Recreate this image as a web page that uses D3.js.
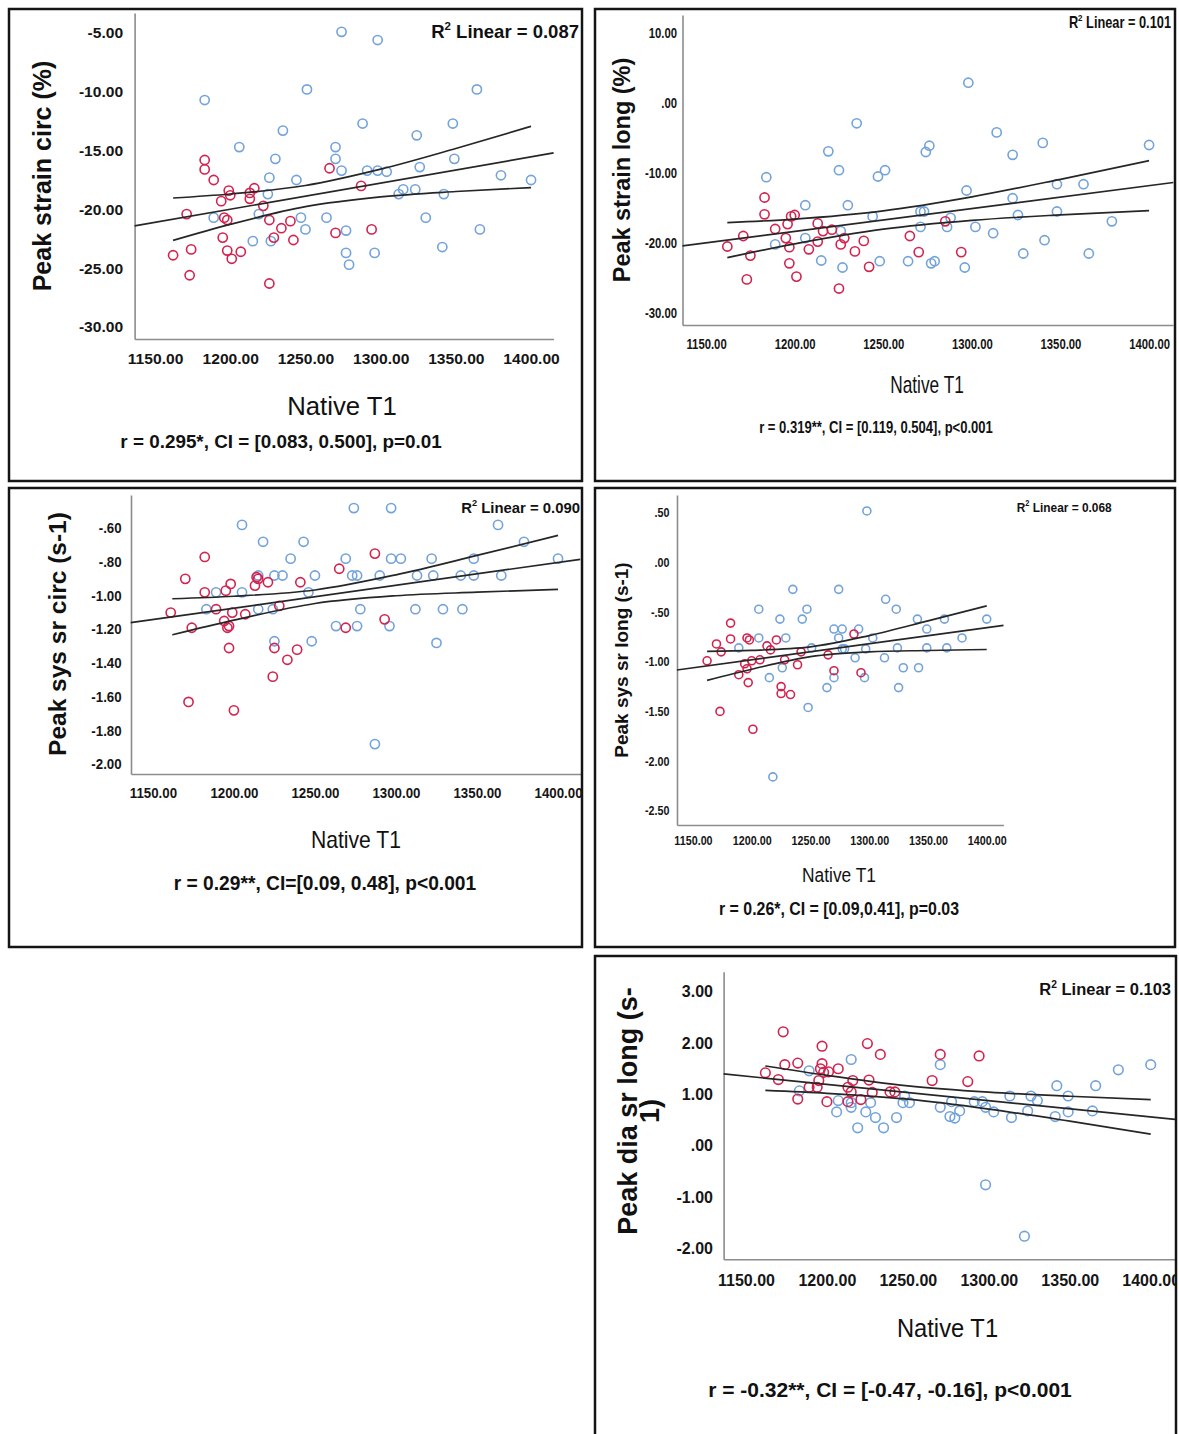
<!DOCTYPE html>
<html>
<head>
<meta charset="utf-8">
<script src="https://cdn.jsdelivr.net/npm/d3@7"></script>
<style>
  html, body { margin: 0; padding: 0; background: #fff; }
  svg { display: block; }
</style>
</head>
<body>
<svg id="fig" width="1179" height="1434"></svg>
<script>
// ---------------------------------------------------------------
// Native T1 vs. myocardial deformation indices (five scatter plots)
// ---------------------------------------------------------------

// Native T1 ticks shared by every panel
const nativeT1Ticks = [1150, 1200, 1250, 1300, 1350, 1400];

// Peak circumferential strain (%)
const strainCircTicks = [-5, -10, -15, -20, -25, -30];
const strainCircBlue = [
  [1274,-4.9],[1298,-5.6],[1183,-10.7],[1251,-9.8],[1364,-9.8],[1288,-12.7],[1348,-12.7],
  [1235,-13.3],[1324,-13.7],[1206,-14.7],[1270,-14.7],[1230,-15.7],[1270,-15.7],[1349,-15.7],
  [1274,-16.7],[1291,-16.7],[1298,-16.7],[1304,-16.8],[1326,-16.4],[1226,-17.3],[1244,-17.5],
  [1380,-17.1],[1400,-17.5],[1315,-18.3],[1323,-18.3],[1312,-18.7],[1342,-18.7],[1225,-18.7],
  [1189,-20.7],[1219,-20.4],[1247,-20.7],[1264,-20.7],[1330,-20.7],[1250,-21.7],[1277,-21.8],
  [1366,-21.7],[1215,-22.7],[1227,-22.7],[1277,-23.7],[1296,-23.7],[1341,-23.2],[1279,-24.7]
];
const strainCircRed = [
  [1183,-15.8],[1183,-16.6],[1189,-17.5],[1171,-20.4],[1199,-18.4],[1200,-18.8],[1194,-19.3],
  [1213,-18.6],[1216,-18.2],[1213,-19.1],[1222,-19.7],[1196,-20.7],[1198,-20.9],[1226,-20.9],
  [1234,-21.6],[1240,-21.0],[1266,-16.5],[1287,-18.0],[1270,-22.0],[1294,-21.7],[1195,-22.4],
  [1229,-22.4],[1242,-22.6],[1162,-23.9],[1174,-23.4],[1198,-23.5],[1201,-24.2],[1207,-23.6],
  [1173,-25.6],[1226,-26.3]
];
const strainCircFit = [[1136.4,-21.4],[1415,-15.2]];
const strainCircUpper = [[1162,-19.03],[1200,-18.69],[1250,-17.97],[1300,-16.58],[1350,-14.82],[1400,-12.94]];
const strainCircLower = [[1162,-22.63],[1200,-21.27],[1250,-19.77],[1300,-18.94],[1350,-18.48],[1400,-18.14]];

// Peak longitudinal strain (%)
const strainLongTicks = [10, 0, -10, -20, -30];
const strainLongBlue = [
  [1298,2.9],[1235,-2.9],[1314,-4.2],[1340,-5.7],[1400,-6.0],[1276,-6.1],[1274,-7.0],[1219,-6.9],
  [1323,-7.4],[1225,-9.6],[1251,-9.6],[1247,-10.5],[1184,-10.6],[1297,-12.5],[1348,-11.6],
  [1363,-11.6],[1323,-13.6],[1206,-14.6],[1230,-14.6],[1271,-15.5],[1273,-15.5],[1348,-15.5],
  [1326,-16.0],[1244,-16.2],[1288,-16.4],[1286,-17.7],[1271,-17.7],[1302,-17.7],[1379,-16.9],
  [1312,-18.6],[1226,-18.3],[1206,-19.3],[1341,-19.6],[1189,-20.2],[1215,-22.5],[1227,-23.5],
  [1248,-22.6],[1264,-22.6],[1277,-22.9],[1279,-22.6],[1296,-23.5],[1329,-21.5],[1366,-21.5]
];
const strainLongRed = [
  [1183,-13.5],[1183,-15.9],[1198,-16.2],[1200,-16.0],[1196,-17.3],[1189,-18.0],[1171,-19.0],
  [1195,-19.3],[1162,-20.5],[1213,-17.2],[1216,-18.3],[1221,-18.1],[1228,-19.3],[1213,-19.8],
  [1239,-19.7],[1265,-19.0],[1285,-16.9],[1175,-21.8],[1197,-20.6],[1208,-20.9],[1226,-20.2],
  [1234,-21.2],[1197,-22.9],[1201,-24.8],[1173,-25.2],[1242,-23.4],[1225,-26.5],[1270,-21.3],
  [1294,-21.3]
];
const strainLongFit = [[1136.7,-20.42],[1413.7,-11.36]];
const strainLongUpper = [[1162,-17.09],[1200,-16.58],[1250,-15.40],[1300,-13.40],[1350,-10.90],[1400,-8.24]];
const strainLongLower = [[1162,-22.09],[1200,-20.12],[1250,-18.02],[1300,-16.76],[1350,-15.98],[1400,-15.38]];

// Peak systolic circumferential strain rate (s-1)
const sysCircTicks = [-0.6, -0.8, -1.0, -1.2, -1.4, -1.6, -1.8, -2.0];
const sysCircBlue = [
  [1274,-0.48],[1297,-0.48],[1205,-0.58],[1363,-0.58],[1218,-0.68],[1243,-0.68],[1379,-0.68],
  [1235,-0.78],[1269,-0.78],[1297,-0.78],[1303,-0.78],[1322,-0.78],[1348,-0.78],[1400,-0.78],
  [1215,-0.88],[1225,-0.88],[1230,-0.88],[1250,-0.88],[1273,-0.88],[1276,-0.88],[1290,-0.88],
  [1313,-0.88],[1323,-0.88],[1340,-0.88],[1348,-0.88],[1365,-0.88],[1189,-0.98],[1205,-0.98],
  [1246,-0.98],[1183,-1.08],[1215,-1.08],[1224,-1.08],[1278,-1.08],[1312,-1.08],[1329,-1.08],
  [1341,-1.08],[1263,-1.18],[1276,-1.18],[1296,-1.18],[1225,-1.27],[1248,-1.27],[1325,-1.28],
  [1287,-1.88]
];
const sysCircRed = [
  [1170,-0.90],[1182,-0.77],[1182,-0.98],[1161,-1.10],[1174,-1.19],[1189,-1.08],[1195,-0.97],
  [1198,-0.93],[1199,-1.10],[1194,-1.15],[1196,-1.19],[1197,-1.18],[1197,-1.31],[1207,-1.11],
  [1213,-0.94],[1214,-0.89],[1215,-0.90],[1221,-0.92],[1228,-1.06],[1225,-1.31],[1233,-1.38],
  [1239,-1.32],[1224,-1.48],[1241,-0.92],[1265,-0.84],[1269,-1.19],[1287,-0.75],[1293,-1.14],
  [1172,-1.63],[1200,-1.68]
];
const sysCircFit = [[1136.3,-1.16],[1413.7,-0.784]];
const sysCircUpper = [[1162,-1.018],[1200,-1.003],[1250,-0.966],[1300,-0.876],[1350,-0.761],[1400,-0.642]];
const sysCircLower = [[1162,-1.232],[1200,-1.145],[1250,-1.046],[1300,-1.000],[1350,-0.979],[1400,-0.962]];

// Peak systolic longitudinal strain rate (s-1)
const sysLongTicks = [0.5, 0, -0.5, -1.0, -1.5, -2.0, -2.5];
const sysLongBlue = [
  [1298,0.52],[1235,-0.27],[1274,-0.27],[1314,-0.37],[1206,-0.47],[1247,-0.47],[1323,-0.47],
  [1224,-0.57],[1243,-0.57],[1341,-0.57],[1364,-0.57],[1400,-0.57],[1270,-0.67],[1277,-0.67],
  [1291,-0.67],[1349,-0.67],[1206,-0.76],[1229,-0.76],[1274,-0.76],[1303,-0.76],[1379,-0.76],
  [1189,-0.86],[1251,-0.86],[1277,-0.87],[1279,-0.87],[1297,-0.87],[1324,-0.86],[1349,-0.86],
  [1366,-0.86],[1288,-0.96],[1313,-0.96],[1226,-1.06],[1329,-1.06],[1342,-1.06],[1215,-1.16],
  [1270,-1.16],[1296,-1.16],[1264,-1.26],[1325,-1.26],[1248,-1.46],[1218,-2.16]
];
const sysLongRed = [
  [1182,-0.61],[1162,-0.99],[1170,-0.82],[1174,-0.90],[1182,-0.77],[1196,-0.76],[1198,-0.78],
  [1189,-1.13],[1194,-1.02],[1196,-1.07],[1200,-0.99],[1197,-1.21],[1207,-0.98],[1213,-0.84],
  [1216,-0.88],[1221,-0.78],[1228,-0.98],[1239,-1.03],[1242,-0.90],[1225,-1.25],[1225,-1.32],
  [1233,-1.33],[1265,-0.93],[1270,-1.09],[1287,-0.72],[1293,-1.11],[1173,-1.50],[1201,-1.68]
];
const sysLongFit = [[1136.3,-1.083],[1414.3,-0.633]];
const sysLongUpper = [[1162,-0.895],[1200,-0.885],[1250,-0.850],[1300,-0.736],[1350,-0.588],[1400,-0.436]];
const sysLongLower = [[1162,-1.187],[1200,-1.075],[1250,-0.948],[1300,-0.900],[1350,-0.886],[1400,-0.876]];

// Peak diastolic longitudinal strain rate (s-1)
const diaLongTicks = [3, 2, 1, 0, -1, -2];
const diaLongBlue = [
  [1400,1.58],[1380,1.48],[1366,1.17],[1342,1.17],[1270,1.58],[1215,1.68],[1189,1.46],[1183,1.07],
  [1313,0.97],[1326,0.97],[1349,0.97],[1248,0.97],[1247,0.84],[1251,0.84],[1277,0.86],[1291,0.86],
  [1296,0.86],[1330,0.88],[1215,0.84],[1227,0.84],[1207,0.88],[1215,0.75],[1270,0.75],[1298,0.75],
  [1206,0.66],[1224,0.66],[1282,0.68],[1303,0.66],[1324,0.68],[1349,0.66],[1364,0.68],[1276,0.57],
  [1279,0.54],[1230,0.55],[1243,0.55],[1314,0.55],[1341,0.57],[1219,0.35],[1235,0.35],
  [1298,-0.76],[1322,-1.76]
];
const diaLongRed = [
  [1173,2.22],[1197,1.94],[1225,1.99],[1233,1.78],[1270,1.78],[1294,1.75],[1162,1.42],[1170,1.29],
  [1174,1.58],[1182,1.61],[1197,1.60],[1196,1.50],[1198,1.43],[1201,1.44],[1207,1.50],[1195,1.27],
  [1189,1.14],[1194,1.14],[1182,0.91],[1200,0.86],[1216,1.27],[1226,1.28],[1213,1.14],[1215,1.05],
  [1228,1.04],[1239,1.05],[1242,1.05],[1213,0.86],[1221,0.90],[1265,1.27],[1287,1.25]
];
const diaLongFit = [[1136.2,1.399],[1415,0.516]];
const diaLongUpper = [[1162,1.555],[1200,1.372],[1250,1.168],[1300,1.045],[1350,0.965],[1400,0.900]];
const diaLongLower = [[1162,1.079],[1200,1.022],[1250,0.908],[1300,0.715],[1350,0.479],[1400,0.226]];

// Text content
const xTitle = "Native T1";
const yTitles = [
  ["Peak strain circ (%)"],
  ["Peak strain long (%)"],
  ["Peak sys sr circ (s-1)"],
  ["Peak sys sr long (s-1)"],
  ["Peak dia sr long (s-", "1)"]
];
const r2Values = ["0.087", "0.101", "0.090", "0.068", "0.103"];
const captions = [
  "r = 0.295*, CI = [0.083, 0.500], p=0.01",
  "r = 0.319**, CI = [0.119, 0.504], p<0.001",
  "r = 0.29**, CI=[0.09, 0.48], p<0.001",
  "r = 0.26*, CI = [0.09,0.41], p=0.03",
  "r = -0.32**, CI = [-0.47, -0.16], p<0.001"
];

// ---------------------------------------------------------------
// Panel geometry and typography
// ---------------------------------------------------------------
const SANS = "'Liberation Sans', Arial, Helvetica, sans-serif";
const BLUE = "#73a3da";
const RED = "#d3234f";

const panels = [
  { box: [9, 9, 582, 481], l: 134.6, r: 553.6, t: 13, b: 339,
    xDom: [1136.4, 1415], yDom: [-31.02, -3.30], yTicks: strainCircTicks,
    blue: strainCircBlue, red: strainCircRed, fit: strainCircFit, upper: strainCircUpper, lower: strainCircLower,
    tick: { fs: 15, sx: 1.04, xPad: 14, yPad: 11.5 }, rad: 4.6,
    yT: { x: 42, y: 176, fs: 25, dx: 0 },
    xT: { x: 342, y: 415, fs: 25, sx: 1.03 },
    cap: { x: 281, y: 448, fs: 18.5, sx: 1.02 },
    r2: { x: 579, y: 38, fs: 18.5, sx: 1.0 } },
  { box: [595, 9, 1175, 481], l: 682.5, r: 1173, t: 15, b: 325,
    xDom: [1136.7, 1413.5], yDom: [-31.71, 12.57], yTicks: strainLongTicks,
    blue: strainLongBlue, red: strainLongRed, fit: strainLongFit, upper: strainLongUpper, lower: strainLongLower,
    tick: { fs: 14.5, sx: 0.78, xPad: 14, yPad: 5.5 }, rad: 4.6,
    yT: { x: 622, y: 170, fs: 23.5, dx: 0 },
    xT: { x: 927, y: 393, fs: 24, sx: 0.72 },
    cap: { x: 876, y: 433, fs: 16.3, sx: 0.8 },
    r2: { x: 1171, y: 28, fs: 16, sx: 0.8 } },
  { box: [9, 488, 582, 947], l: 131, r: 582, t: 495, b: 774,
    xDom: [1136.5, 1414.8], yDom: [-2.0575, -0.4025], yTicks: sysCircTicks,
    blue: sysCircBlue, red: sysCircRed, fit: sysCircFit, upper: sysCircUpper, lower: sysCircLower,
    tick: { fs: 14, sx: 0.95, xPad: 14, yPad: 9.4 }, rad: 4.6,
    yT: { x: 57, y: 634, fs: 24.5, dx: 0 },
    xT: { x: 356, y: 848, fs: 23, sx: 0.92 },
    cap: { x: 325, y: 890, fs: 20, sx: 0.96 },
    r2: { x: 580, y: 513, fs: 15.5, sx: 0.96 } },
  { box: [595, 488, 1175, 947], l: 677, r: 1003.4, t: 495, b: 825,
    xDom: [1136.4, 1414.2], yDom: [-2.645, 0.681], yTicks: sysLongTicks,
    blue: sysLongBlue, red: sysLongRed, fit: sysLongFit, upper: sysLongUpper, lower: sysLongLower,
    tick: { fs: 12.5, sx: 0.86, xPad: 11, yPad: 7.5 }, rad: 4.0,
    yT: { x: 621, y: 660, fs: 19, dx: 0 },
    xT: { x: 839, y: 882, fs: 19.5, sx: 0.89 },
    cap: { x: 839, y: 915, fs: 18.5, sx: 0.86 },
    r2: { x: 1111.6, y: 512, fs: 13.5, sx: 0.88 } },
  { box: [595, 956, 1176, 1440], l: 723.6, r: 1175, t: 971.7, b: 1259.3,
    xDom: [1136.2, 1415], yDom: [-2.21, 3.39], yTicks: diaLongTicks,
    blue: diaLongBlue, red: diaLongRed, fit: diaLongFit, upper: diaLongUpper, lower: diaLongLower,
    tick: { fs: 16, sx: 1.0, xPad: 15.5, yPad: 10.6 }, rad: 4.8,
    yT: { x: 628, y: 1111, fs: 27, dx: 22 },
    xT: { x: 947.5, y: 1337, fs: 25, sx: 0.95 },
    cap: { x: 890, y: 1397, fs: 21, sx: 1.0 },
    r2: { x: 1171, y: 995, fs: 17, sx: 0.97 } }
];

// SPSS-style tick labels: two decimals, no leading zero below one
const fmt = v => v.toFixed(2).replace(/^(-?)0\./, "$1.");

const svg = d3.select("#fig");
const defs = svg.append("defs");

panels.forEach((p, i) => {
  const x = d3.scaleLinear().domain(p.xDom).range([p.l, p.r]);
  const y = d3.scaleLinear().domain(p.yDom).range([p.b, p.t]);

  defs.append("clipPath").attr("id", "clip" + i)
    .append("rect")
    .attr("x", p.box[0]).attr("y", p.box[1])
    .attr("width", p.box[2] - p.box[0]).attr("height", p.box[3] - p.box[1]);

  const g = svg.append("g").attr("clip-path", `url(#clip${i})`);

  // axes (no tick marks, grey baseline)
  const gx = g.append("g").attr("transform", `translate(0,${p.b})`)
    .call(d3.axisBottom(x).tickValues(nativeT1Ticks).tickSize(0).tickSizeOuter(0)
      .tickPadding(p.tick.xPad).tickFormat(fmt));
  const gy = g.append("g").attr("transform", `translate(${p.l},0)`)
    .call(d3.axisLeft(y).tickValues(p.yTicks).tickSize(0).tickSizeOuter(0)
      .tickPadding(p.tick.yPad).tickFormat(fmt));

  [gx, gy].forEach(a => {
    a.select(".domain").attr("stroke", "#8c8c8c").attr("stroke-width", 1.6);
    a.selectAll("text")
      .attr("font-family", SANS).attr("font-weight", "bold")
      .attr("font-size", p.tick.fs).attr("fill", "#151515")
      .attr("transform", `scale(${p.tick.sx},1)`);
  });
  gy.selectAll("text").attr("x", -p.tick.yPad / p.tick.sx);

  // scatter points
  const pts = g.append("g").attr("fill", "none").attr("stroke-width", 1.6);
  pts.selectAll("circle.b").data(p.blue).join("circle").attr("class", "b")
    .attr("cx", d => x(d[0])).attr("cy", d => y(d[1])).attr("r", p.rad)
    .attr("stroke", BLUE);
  pts.selectAll("circle.r").data(p.red).join("circle").attr("class", "r")
    .attr("cx", d => x(d[0])).attr("cy", d => y(d[1])).attr("r", p.rad)
    .attr("stroke", RED);

  // linear fit and its 95% confidence band
  const line = d3.line().x(d => x(d[0])).y(d => y(d[1]));
  const curve = d3.line().x(d => x(d[0])).y(d => y(d[1])).curve(d3.curveMonotoneX);
  const lines = g.append("g").attr("fill", "none").attr("stroke", "#262626").attr("stroke-width", 1.7);
  lines.append("path").attr("d", line(p.fit));
  lines.append("path").attr("d", curve(p.upper));
  lines.append("path").attr("d", curve(p.lower));

  // y title (rotated, may wrap onto two lines)
  yTitles[i].forEach((s, k) => {
    g.append("text")
      .attr("transform", `translate(${p.yT.x + k * p.yT.dx},${p.yT.y}) rotate(-90)`)
      .attr("text-anchor", "middle").attr("dominant-baseline", "central")
      .attr("font-family", SANS).attr("font-weight", "bold")
      .attr("font-size", p.yT.fs).attr("fill", "#111").text(s);
  });

  // x title
  g.append("text")
    .attr("transform", `translate(${p.xT.x},${p.xT.y}) scale(${p.xT.sx},1)`)
    .attr("text-anchor", "middle").attr("font-family", SANS)
    .attr("font-size", p.xT.fs).attr("fill", "#111").text(xTitle);

  // correlation caption
  g.append("text")
    .attr("transform", `translate(${p.cap.x},${p.cap.y}) scale(${p.cap.sx},1)`)
    .attr("text-anchor", "middle").attr("font-family", SANS).attr("font-weight", "bold")
    .attr("font-size", p.cap.fs).attr("fill", "#111").text(captions[i]);

  // R² annotation
  const rt = g.append("text")
    .attr("transform", `translate(${p.r2.x},${p.r2.y}) scale(${p.r2.sx},1)`)
    .attr("text-anchor", "end").attr("font-family", SANS).attr("font-weight", "bold")
    .attr("font-size", p.r2.fs).attr("fill", "#111");
  rt.append("tspan").text("R");
  rt.append("tspan").attr("dy", -0.42 * p.r2.fs).attr("font-size", 0.62 * p.r2.fs).text("2");
  rt.append("tspan").attr("dy", 0.42 * p.r2.fs).text(" Linear = " + r2Values[i]);

  // panel frame
  svg.append("rect")
    .attr("x", p.box[0]).attr("y", p.box[1])
    .attr("width", p.box[2] - p.box[0]).attr("height", p.box[3] - p.box[1])
    .attr("fill", "none").attr("stroke", "#141414").attr("stroke-width", 2.5);
});
</script>
</body>
</html>
